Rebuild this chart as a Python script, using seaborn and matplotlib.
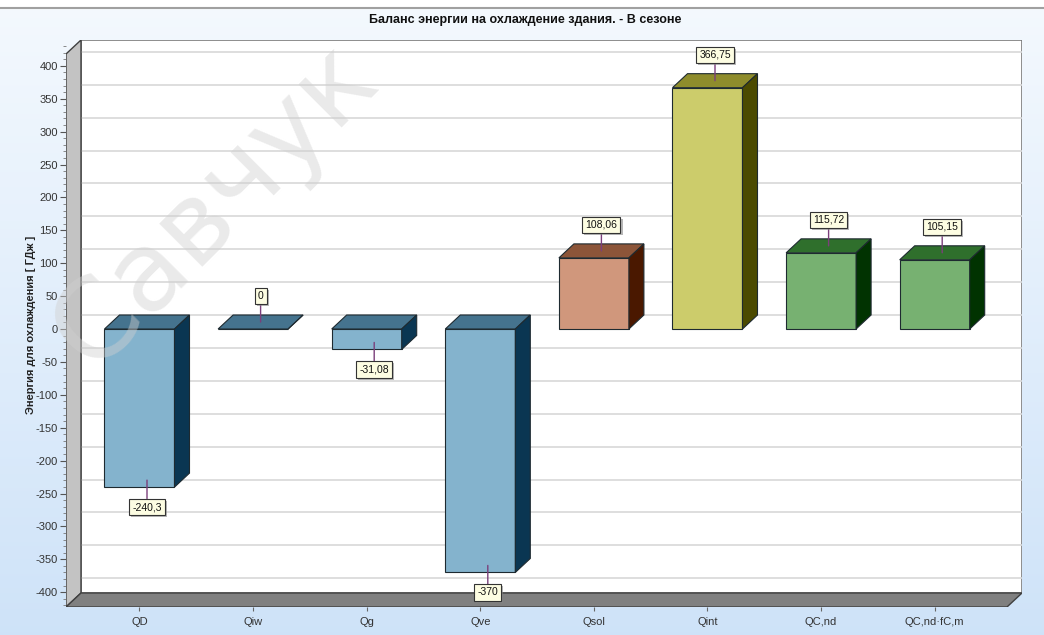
import numpy as np
import matplotlib
matplotlib.use("Agg")
import matplotlib.pyplot as plt
import matplotlib.patheffects as pe
from matplotlib.patches import Polygon
from matplotlib.ticker import FixedLocator
import seaborn as sns

# data
categories = ["QD", "Qiw", "Qg", "Qve", "Qsol", "Qint", "QC,nd", "QC,nd·fC,m"]
values = [-240.3, 0, -31.08, -370, 108.06, 366.75, 115.72, 105.15]
front_colors = ["#84b3cd", "#84b3cd", "#84b3cd", "#84b3cd", "#d0977c", "#cccc6b", "#77b171", "#77b171"]
top_colors = ["#45738e", "#45738e", "#45738e", "#45738e", "#8c5539", "#8e8c2c", "#2f6f2c", "#2f6f2c"]
side_colors = ["#0a3652", "#0a3652", "#0a3652", "#0a3652", "#4a1800", "#4b4a00", "#013301", "#013301"]
major_ticks = list(range(-400, 401, 50))

sns.set_style("white")
plt.rcParams["font.family"] = ["Liberation Sans", "DejaVu Sans"]
plt.rcParams["axes.unicode_minus"] = False

W, H = 1044, 635
fig = plt.figure(figsize=(W / 100, H / 100), dpi=100)

# background panel with light blue gradient
bg = fig.add_axes([0, 0, 1, 1])
bg.set_axis_off()
grad = np.linspace(0, 1, 256).reshape(-1, 1)
top_c = np.array([0.955, 0.975, 0.995])
bot_c = np.array([0.81, 0.89, 0.975])
img = top_c + (bot_c - top_c) * grad[..., None]
bg.imshow(img.reshape(256, 1, 3), aspect="auto", extent=[0, 1, 0, 1 - 8 / H])
bg.axhspan(1 - 8 / H, 1, color="white")
bg.axhline(1 - 7.5 / H, color="#a0a0a0", lw=1.5)
bg.set_xlim(0, 1)
bg.set_ylim(0, 1)

# main axes: front plane of the 3d box
ax = fig.add_axes([66 / W, 28 / H, 956 / W, 567 / H])
ax.patch.set_visible(False)
for s in ax.spines.values():
    s.set_visible(False)

k = 0.658          # px per data unit (y)
step = 113.6       # px per category
x0 = 139.5         # px of first category
ylo = (329 - 607) / k
yhi = (329 - 40) / k
xlo = (66 - x0) / step
xhi = (1022 - x0) / step
DX = 15 / step
DY = 14 / k

sns.barplot(x=categories, y=values, hue=categories, palette=front_colors,
            saturation=1, width=70 / step, edgecolor="#1e2a30", linewidth=0.8,
            legend=False, ax=ax, zorder=5)
bars = sorted(list(ax.patches), key=lambda p: p.get_x())
ax.set_xlim(xlo, xhi)
ax.set_ylim(ylo, yhi)

# walls
ax.add_patch(Polygon([(xlo + DX, ylo + DY), (xhi, ylo + DY), (xhi, yhi), (xlo + DX, yhi)],
                     closed=True, fc="white", ec="#7a7a7a", lw=1.2, zorder=1))
for t in major_ticks:
    ax.plot([xlo + DX, xhi], [t + DY, t + DY], color="#d8d8d8", lw=1.2, zorder=2)
ax.add_patch(Polygon([(xlo, ylo), (xlo, yhi - DY), (xlo + DX, yhi), (xlo + DX, ylo + DY)],
                     closed=True, fc="#c3c3c3", ec="#404040", lw=1, zorder=3))
ax.add_patch(Polygon([(xlo, ylo), (xhi - DX, ylo), (xhi, ylo + DY), (xlo + DX, ylo + DY)],
                     closed=True, fc="#808080", ec="#404040", lw=1, zorder=3))

# 3d faces and callout labels
for p, v, tc, sc in zip(bars, values, top_colors, side_colors):
    x, w = p.get_x(), p.get_width()
    b = min(p.get_y(), p.get_y() + p.get_height())
    t = max(p.get_y(), p.get_y() + p.get_height())
    ax.add_patch(Polygon([(x, t), (x + w, t), (x + w + DX, t + DY), (x + DX, t + DY)],
                         closed=True, fc=tc, ec="#1e2a30", lw=0.8, zorder=5))
    ax.add_patch(Polygon([(x + w, b), (x + w + DX, b + DY), (x + w + DX, t + DY), (x + w, t)],
                         closed=True, fc=sc, ec="#1e2a30", lw=0.8, zorder=5))
    cx = x + w / 2 + DX / 2
    if v >= 0:
        anchor, off = (cx, t + DY / 2), 26
    else:
        anchor, off = (cx, b + DY / 2), -27
    txt = f"{v:g}".replace(".", ",")
    ann = ax.annotate(txt, xy=anchor, xytext=(0, off), textcoords="offset pixels",
                      ha="center", va="center", fontsize=7.5, color="#111111", zorder=8,
                      bbox=dict(boxstyle="square,pad=0.3", fc="#fdfde2", ec="#333333", lw=0.8),
                      arrowprops=dict(arrowstyle="-", color="#7b3f7b", lw=1,
                                      shrinkA=0, shrinkB=0))
    ann.get_bbox_patch().set_path_effects([pe.withSimplePatchShadow(offset=(1.5, -1.5),
                                                                    shadow_rgbFace="#888888", alpha=0.6)])

# ticks
ax.yaxis.set_major_locator(FixedLocator(major_ticks))
ax.yaxis.set_minor_locator(FixedLocator(list(range(-420, 431, 10))))
ax.tick_params(axis="y", which="major", direction="out", length=4, width=0.8,
               color="#555555", labelsize=8, labelcolor="#333333", pad=2, left=True)
ax.tick_params(axis="y", which="minor", direction="out", length=2, width=0.6,
               color="#777777", left=True)
ax.set_xticks(range(len(categories)))
ax.set_xticklabels(categories)
ax.tick_params(axis="x", direction="out", length=3, width=0.8, color="#666666",
               labelsize=8, labelcolor="#333333", pad=4, bottom=True)
ax.set_xlabel("")
ax.set_ylabel("")

fig.text(0.503, 1 - 20 / H, "Баланс энергии на охлаждение здания. - В сезоне",
         ha="center", va="center", fontsize=9, fontweight="bold", color="#111111")
fig.text(31 / W, 1 - 325 / H, "Энергия для охлаждения [ ГДж ]", rotation=90,
         ha="center", va="center", fontsize=8, fontweight="bold", color="#222222")

# watermark
fig.text(215 / W, 1 - 205 / H, "Савчук", rotation=45, ha="center", va="center",
         fontsize=80, color="#d0d0d0", alpha=0.45,
         family="DejaVu Sans", zorder=20)

fig.savefig("out.png", dpi=100)
